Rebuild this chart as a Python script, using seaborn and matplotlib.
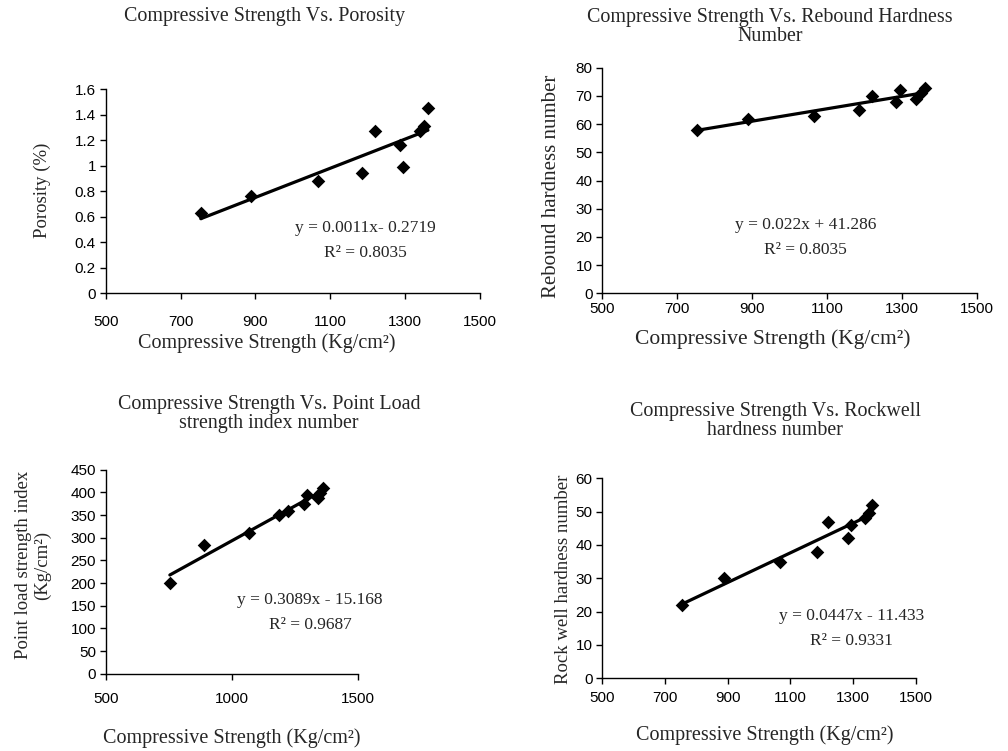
import numpy as np
import pandas as pd
import matplotlib
matplotlib.use("Agg")
import matplotlib.pyplot as plt
from matplotlib.ticker import FuncFormatter, FixedLocator
import seaborn as sns

# ---------------- data ----------------
strength = [754, 889, 1066, 1186, 1220, 1285, 1295, 1339, 1350, 1361]
porosity = [0.63, 0.76, 0.88, 0.94, 1.27, 1.16, 0.99, 1.27, 1.31, 1.45]
rebound = [58, 62, 63, 65, 70, 68, 72, 69, 71, 73]
point_load = [200, 285, 310, 350, 360, 374, 395, 388, 398, 410]
rockwell = [22, 30, 35, 38, 47, 42, 46, 48, 49.5, 52]

titles = ["Compressive Strength Vs. Porosity",
          "Compressive Strength Vs. Rebound Hardness\nNumber",
          "Compressive Strength Vs. Point Load\nstrength index number",
          "Compressive Strength Vs. Rockwell\nhardness number"]
xlabel = "Compressive Strength (Kg/cm\u00b2)"
ylabels = ["Porosity (%)", "Rebound hardness number",
           "Point load strength index\n(Kg/cm\u00b2)", "Rock well hardness number"]
equations = ["y = 0.0011x- 0.2719", "y = 0.022x + 41.286",
             "y = 0.3089x - 15.168", "y = 0.0447x - 11.433"]
r2_labels = ["R\u00b2 = 0.8035", "R\u00b2 = 0.8035", "R\u00b2 = 0.9687", "R\u00b2 = 0.9331"]
xticks = [[500, 700, 900, 1100, 1300, 1500],
          [500, 700, 900, 1100, 1300, 1500],
          [500, 1000, 1500],
          [500, 700, 900, 1100, 1300, 1500]]
yticks = [[0, 0.2, 0.4, 0.6, 0.8, 1, 1.2, 1.4, 1.6],
          [0, 10, 20, 30, 40, 50, 60, 70, 80],
          [0, 50, 100, 150, 200, 250, 300, 350, 400, 450],
          [0, 10, 20, 30, 40, 50, 60]]

df = pd.DataFrame({"strength": strength, "porosity": porosity, "rebound": rebound,
                   "point_load": point_load, "rockwell": rockwell})
ycols = ["porosity", "rebound", "point_load", "rockwell"]

# ---------------- style ----------------
sns.set_style("ticks")
plt.rcParams["font.family"] = ["Liberation Sans", "DejaVu Sans"]
SERIF = ["Liberation Serif", "DejaVu Serif"]

W, H = 1008, 751
fig = plt.figure(figsize=(W / 100, H / 100), dpi=100)

# axes boxes in pixels: left, right, top(ymax), bottom(ymin)
boxes = [(105.7, 480.0, 89.3, 293.3),
         (602.3, 976.7, 67.8, 293.3),
         (105.7, 358.3, 469.7, 673.7),
         (602.3, 915.7, 478.3, 678.3)]
xpads = [11.5, 2.5, 9.5, 5.5]
title_pos = [(265, 16), (770, 27), (269, 414), (775, 421)]
xlabel_pos = [(267, 343), (773, 339), (232, 738), (765, 735)]
xlabel_size = [14.5, 15.5, 14.5, 14.5]
ylabel_pos = [(42, 190), (552, 186), (33, 565), (564, 579)]
ylabel_size = [13.5, 15, 13.5, 13.5]
eq_pos = [(0.695, 0.32, 0.198), (0.543, 0.303, 0.192),
          (0.809, 0.361, 0.239), (0.794, 0.313, 0.188)]

fmt = FuncFormatter(lambda v, p: f"{v:g}")

for i in range(4):
    l, r, t, b = boxes[i]
    ax = fig.add_axes([l / W, 1 - b / H, (r - l) / W, (b - t) / H])
    sns.regplot(data=df, x="strength", y=ycols[i], ax=ax, ci=None,
                marker="D", color="black", truncate=True,
                scatter_kws={"s": 48, "linewidths": 0, "alpha": 1, "zorder": 3},
                line_kws={"lw": 2.3, "zorder": 2})
    ax.set_xlim(500, 1500)
    ax.set_ylim(yticks[i][0], yticks[i][-1])
    ax.xaxis.set_major_locator(FixedLocator(xticks[i]))
    ax.yaxis.set_major_locator(FixedLocator(yticks[i]))
    ax.yaxis.set_major_formatter(fmt)
    ax.xaxis.set_major_formatter(fmt)
    ax.set_xlabel("")
    ax.set_ylabel("")
    sns.despine(ax=ax)
    for s in ["left", "bottom"]:
        ax.spines[s].set_linewidth(1.0)
        ax.spines[s].set_color("black")
    ax.tick_params(direction="out", length=4, width=1, labelsize=11,
                   colors="black", pad=3)
    ax.tick_params(axis="x", pad=xpads[i])
    ax.set_facecolor("white")
    ex, ey1, ey2 = eq_pos[i]
    ax.text(ex, ey1, equations[i], transform=ax.transAxes, ha="center",
            va="center", fontsize=12.5, family=SERIF)
    ax.text(ex, ey2, r2_labels[i], transform=ax.transAxes, ha="center",
            va="center", fontsize=12.5, family=SERIF)

    tx, ty = title_pos[i]
    fig.text(tx / W, 1 - ty / H, titles[i], ha="center", va="center",
             fontsize=14.4, family=SERIF, linespacing=1.0)
    lx, ly = xlabel_pos[i]
    fig.text(lx / W, 1 - ly / H, xlabel, ha="center", va="center",
             fontsize=xlabel_size[i], family=SERIF)
    yx, yy = ylabel_pos[i]
    fig.text(yx / W, 1 - yy / H, ylabels[i], ha="center", va="center",
             rotation=90, fontsize=ylabel_size[i], family=SERIF, linespacing=1.1)

fig.savefig("out.png", dpi=100, facecolor="white")
